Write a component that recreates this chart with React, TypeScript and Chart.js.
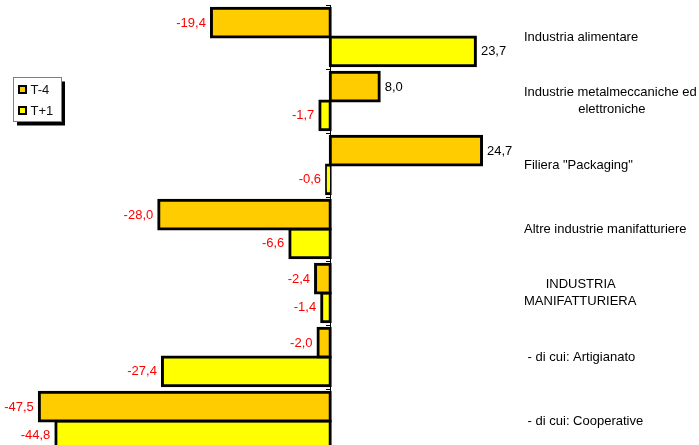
import React, { useEffect, useRef } from 'react';
import { Chart, registerables } from 'chart.js';

Chart.register(...registerables);

// ---- data ----
const categories: (string | string[])[] = [
  'Industria alimentare',
  ['Industrie metalmeccaniche ed', '               elettroniche'],
  'Filiera "Packaging"',
  'Altre industrie manifatturiere',
  ['      INDUSTRIA', 'MANIFATTURIERA'],
  ' - di cui: Artigianato',
  ' - di cui: Cooperative',
];
const seriesNames = ['T-4', 'T+1'];
const valuesT4 = [-19.4, 8.0, 24.7, -28.0, -2.4, -2.0, -47.5];
const valuesT1 = [23.7, -1.7, -0.6, -6.6, -1.4, -27.4, -44.8];
const xMin = -50;
const xMax = 30;

const FONT = 'Arial, "Liberation Sans", sans-serif';
const FONT_SIZE = 13;
const colors = ['#FFCC00', '#FFFF00'];

const valueLabels = {
  id: 'valueLabels',
  afterDatasetsDraw(chart: any) {
    const ctx = chart.ctx;
    ctx.save();
    ctx.font = `${FONT_SIZE}px ${FONT}`;
    ctx.textBaseline = 'middle';
    chart.data.datasets.forEach((ds: any, di: number) => {
      const meta = chart.getDatasetMeta(di);
      meta.data.forEach((el: any, i: number) => {
        const v = ds.data[i] as number;
        const txt = v.toFixed(1).replace('.', ',');
        const neg = v < 0;
        ctx.fillStyle = neg ? '#FF0000' : '#000000';
        ctx.textAlign = neg ? 'right' : 'left';
        ctx.fillText(txt, el.x + (neg ? -5.5 : 5.5), el.y + 0.5);
      });
    });
    ctx.restore();
  },
};

const boxLegend = {
  id: 'boxLegend',
  afterDraw(chart: any) {
    const ctx = chart.ctx;
    const bx = 13.5, by = 77.5, bw = 48, bh = 44;
    ctx.save();
    ctx.fillStyle = '#000';
    ctx.fillRect(bx + 3.5, by + 4, bw, bh);
    ctx.fillStyle = '#fff';
    ctx.fillRect(bx, by, bw, bh);
    ctx.strokeStyle = '#808080';
    ctx.lineWidth = 1;
    ctx.strokeRect(bx, by, bw, bh);
    ctx.font = `${FONT_SIZE}px ${FONT}`;
    ctx.textBaseline = 'middle';
    ctx.textAlign = 'left';
    chart.data.datasets.forEach((ds: any, i: number) => {
      const cy = 89.5 + i * 21;
      ctx.fillStyle = '#000';
      ctx.fillRect(18, cy - 4.5, 9, 9);
      ctx.fillStyle = ds.backgroundColor;
      ctx.fillRect(20, cy - 2.5, 5, 5);
      ctx.fillStyle = '#111';
      ctx.fillText(ds.label, 30.5, cy + 0.5);
    });
    ctx.restore();
  },
};

export default function App() {
  const ref = useRef<HTMLCanvasElement | null>(null);

  useEffect(() => {
    if (!ref.current) return;
    const chart = new Chart(ref.current, {
      type: 'bar',
      data: {
        labels: categories as any,
        datasets: [
          {
            label: seriesNames[0],
            data: valuesT4,
            backgroundColor: colors[0],
            borderColor: '#000',
            borderWidth: 3,
            borderSkipped: false,
            inflateAmount: 1.5,
          } as any,
          {
            label: seriesNames[1],
            data: valuesT1,
            backgroundColor: colors[1],
            borderColor: '#000',
            borderWidth: 3,
            borderSkipped: false,
            inflateAmount: 1.5,
          } as any,
        ],
      },
      options: {
        indexAxis: 'y',
        responsive: false,
        devicePixelRatio: 1,
        animation: false,
        events: [],
        layout: { padding: { top: 5, left: 24, right: 0, bottom: 0 } },
        datasets: { bar: { categoryPercentage: 0.9, barPercentage: 1.0 } },
        plugins: {
          legend: { display: false },
          tooltip: { enabled: false },
        },
        scales: {
          x: { type: 'linear', min: xMin, max: xMax, display: false },
          y: {
            type: 'category',
            position: 'right',
            offset: true,
            grid: { display: false, drawTicks: false },
            border: { display: false },
            ticks: {
              color: '#000',
              padding: 10,
              autoSkip: false,
              font: { family: FONT, size: FONT_SIZE, lineHeight: 1.27 },
            },
            afterFit: (s: any) => {
              s.width = 185;
              s.paddingTop = 0;
              s.paddingBottom = 0;
            },
          },
          y2: {
            type: 'category',
            axis: 'y',
            position: { x: 0 },
            offset: true,
            grid: {
              display: true,
              offset: true,
              drawOnChartArea: false,
              drawTicks: true,
              tickLength: 4,
              color: '#000',
              lineWidth: 1,
            },
            border: { display: true, color: '#000', width: 1 },
            ticks: { display: false },
            afterFit: (s: any) => {
              s.paddingTop = 0;
              s.paddingBottom = 0;
            },
          },
        } as any,
      },
      plugins: [valueLabels, boxLegend],
    });
    return () => chart.destroy();
  }, []);

  return (
    <div
      style={{
        position: 'fixed',
        left: 0,
        top: 0,
        width: 699,
        height: 445,
        overflow: 'hidden',
        background: '#fff',
      }}
    >
      <canvas
        ref={ref}
        width={699}
        height={453}
        style={{ display: 'block', width: 699, height: 453 }}
      />
    </div>
  );
}
